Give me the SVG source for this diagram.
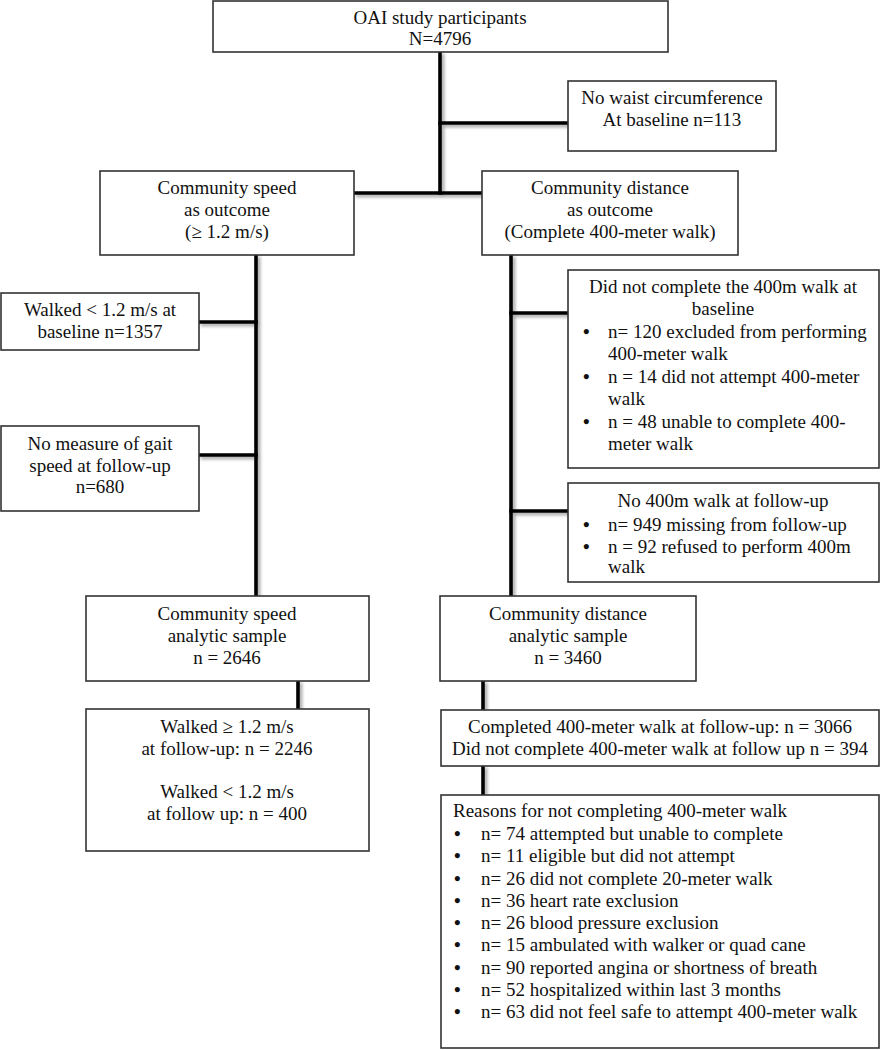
<svg xmlns="http://www.w3.org/2000/svg" width="880" height="1050" viewBox="0 0 880 1050">
<style>
text{font-family:"Liberation Serif","Times New Roman",serif;font-size:19px;fill:#111}
.c{text-anchor:middle}
.b{font-weight:bold}
.box{fill:#fff;stroke:#333;stroke-width:1.6}
.ln{stroke:#000;stroke-width:3.6;fill:none;stroke-linecap:square}
</style>
<defs>
<filter id="sh" x="-20%" y="-20%" width="140%" height="140%">
<feDropShadow dx="2.5" dy="2.5" stdDeviation="1.6" flood-color="#000" flood-opacity="0.35"/>
</filter>
</defs>
<rect width="880" height="1050" fill="#fff"/>
<g id="connectors" filter="url(#sh)">
<path class="ln" d="M440 53 V193"/>
<path class="ln" d="M440 123 H567"/>
<path class="ln" d="M355 193 H481"/>
<path class="ln" d="M256 256 V595"/>
<path class="ln" d="M200 322 H256"/>
<path class="ln" d="M200 455 H256"/>
<path class="ln" d="M511 256 V595"/>
<path class="ln" d="M511 313 H567"/>
<path class="ln" d="M511 511 H567"/>
<path class="ln" d="M298 682 V708"/>
<path class="ln" d="M483 682 V709"/>
<path class="ln" d="M483 767 V794"/>
</g>
<g id="n_oai">
<rect class="box" x="213" y="1" width="455" height="51"/>
<text class="c" x="440" y="24">OAI study participants</text>
<text class="c" x="440" y="45">N=4796</text>
</g>
<g id="n_waist">
<rect class="box" x="568" y="81" width="208" height="70"/>
<text class="c" x="672" y="104">No waist circumference</text>
<text class="c" x="672" y="126">At baseline n=113</text>
</g>
<g id="n_speed">
<rect class="box" x="100" y="171" width="254" height="84"/>
<text class="c" x="227" y="194">Community speed</text>
<text class="c" x="227" y="216">as outcome</text>
<text class="c" x="227" y="238">(≥ 1.2 m/s)</text>
</g>
<g id="n_dist">
<rect class="box" x="482" y="171" width="256" height="84"/>
<text class="c" x="610" y="194">Community distance</text>
<text class="c" x="610" y="216">as outcome</text>
<text class="c" x="610" y="238">(Complete 400-meter walk)</text>
</g>
<g id="n_walked">
<rect class="box" x="1" y="293" width="198" height="57"/>
<text class="c" x="100" y="316">Walked &lt; 1.2 m/s at</text>
<text class="c" x="100" y="338">baseline n=1357</text>
</g>
<g id="n_gait">
<rect class="box" x="1" y="426" width="198" height="85"/>
<text class="c" x="100" y="450">No measure of gait</text>
<text class="c" x="100" y="472">speed at follow-up</text>
<text class="c" x="100" y="493">n=680</text>
</g>
<g id="n_base400">
<rect class="box" x="568" y="270" width="311" height="198"/>
<text class="c" x="723" y="293">Did not complete the 400m walk at</text>
<text class="c" x="723" y="315">baseline</text>
<text class="b" x="583" y="338">•</text>
<text x="608" y="338">n= 120 excluded from performing</text>
<text x="608" y="360">400-meter walk</text>
<text class="b" x="583" y="383">•</text>
<text x="608" y="383">n = 14 did not attempt 400-meter</text>
<text x="608" y="405">walk</text>
<text class="b" x="583" y="428">•</text>
<text x="608" y="428">n = 48 unable to complete 400-</text>
<text x="608" y="450">meter walk</text>
</g>
<g id="n_fu400">
<rect class="box" x="568" y="483" width="311" height="99"/>
<text class="c" x="723" y="507">No 400m walk at follow-up</text>
<text class="b" x="583" y="531">•</text>
<text x="608" y="531">n= 949 missing from follow-up</text>
<text class="b" x="583" y="553">•</text>
<text x="608" y="553">n = 92 refused to perform 400m</text>
<text x="608" y="573">walk</text>
</g>
<g id="n_speed_sample">
<rect class="box" x="86" y="596" width="283" height="85"/>
<text class="c" x="227" y="620">Community speed</text>
<text class="c" x="227" y="642">analytic sample</text>
<text class="c" x="227" y="664">n = 2646</text>
</g>
<g id="n_dist_sample">
<rect class="box" x="440" y="596" width="256" height="85"/>
<text class="c" x="568" y="620">Community distance</text>
<text class="c" x="568" y="642">analytic sample</text>
<text class="c" x="568" y="664">n = 3460</text>
</g>
<g id="n_speed_result">
<rect class="box" x="86" y="709" width="283" height="142"/>
<text class="c" x="227" y="733">Walked ≥ 1.2 m/s</text>
<text class="c" x="227" y="755">at follow-up: n = 2246</text>
<text class="c" x="227" y="798">Walked &lt; 1.2 m/s</text>
<text class="c" x="227" y="820">at follow up: n = 400</text>
</g>
<g id="n_dist_result">
<rect class="box" x="441" y="710" width="438" height="56"/>
<text class="c" x="660" y="733">Completed 400-meter walk at follow-up: n = 3066</text>
<text class="c" x="660" y="755">Did not complete 400-meter walk at follow up n = 394</text>
</g>
<g id="n_reasons">
<rect class="box" x="441" y="795" width="438" height="253"/>
<text x="453" y="817">Reasons for not completing 400-meter walk</text>
<text class="b" x="454" y="840">•</text><text x="481" y="840">n= 74 attempted but unable to complete</text>
<text class="b" x="454" y="862">•</text><text x="481" y="862">n= 11 eligible but did not attempt</text>
<text class="b" x="454" y="885">•</text><text x="481" y="885">n= 26 did not complete 20-meter walk</text>
<text class="b" x="454" y="907">•</text><text x="481" y="907">n= 36 heart rate exclusion</text>
<text class="b" x="454" y="929">•</text><text x="481" y="929">n= 26 blood pressure exclusion</text>
<text class="b" x="454" y="951">•</text><text x="481" y="951">n= 15 ambulated with walker or quad cane</text>
<text class="b" x="454" y="974">•</text><text x="481" y="974">n= 90 reported angina or shortness of breath</text>
<text class="b" x="454" y="996">•</text><text x="481" y="996">n= 52 hospitalized within last 3 months</text>
<text class="b" x="454" y="1018">•</text><text x="481" y="1018">n= 63 did not feel safe to attempt 400-meter walk</text>
</g>
</svg>
